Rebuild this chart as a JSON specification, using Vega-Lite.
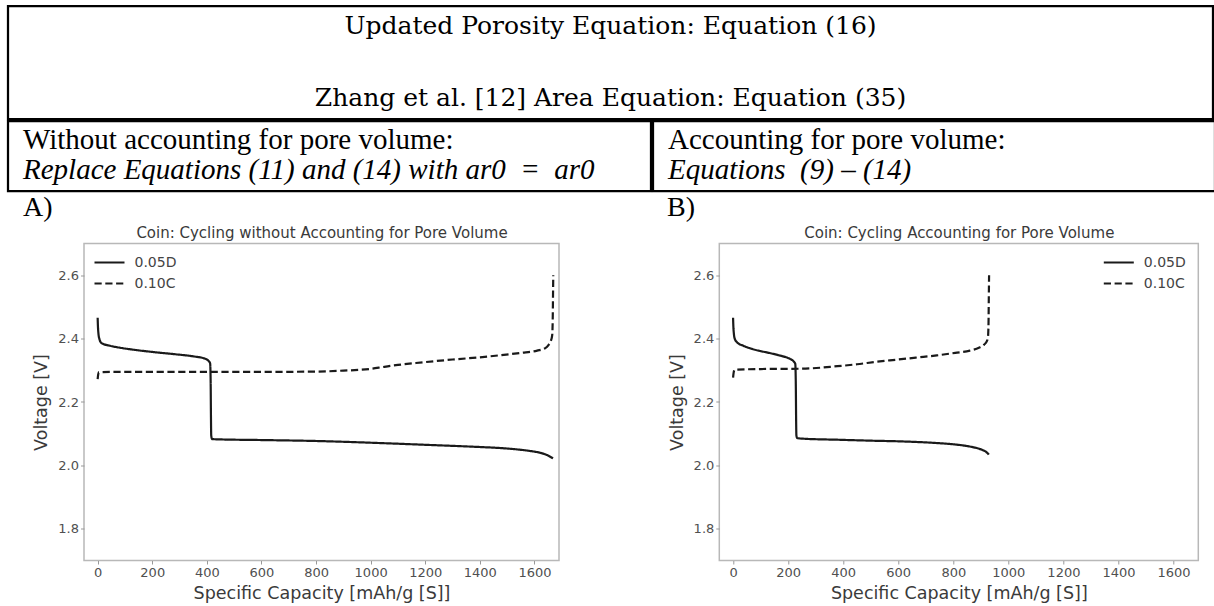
{
  "$schema": "https://vega.github.io/schema/vega-lite/v6.json",
  "background": "white",
  "padding": {"left": 6, "top": 4, "right": 0, "bottom": 2},
  "config": {
    "view": {"stroke": null},
    "title": {"fontWeight": "normal", "color": "black"},
    "axis": {
      "grid": false,
      "domain": false,
      "tickColor": "#999999",
      "tickSize": 3.5,
      "tickWidth": 1,
      "labelPadding": 2,
      "labelFont": "DejaVu Sans",
      "labelFontSize": 13,
      "labelColor": "#505050",
      "labelFlush": false,
      "titleFont": "DejaVu Sans",
      "titleFontSize": 17.5,
      "titleFontWeight": "normal",
      "titleColor": "#3a3a3a"
    }
  },
  "datasets": {
    "coinA": [
      {"rate": "0.05D", "capacity": 0, "voltage": 2.466},
      {"rate": "0.05D", "capacity": 1, "voltage": 2.44},
      {"rate": "0.05D", "capacity": 3, "voltage": 2.415},
      {"rate": "0.05D", "capacity": 6, "voltage": 2.4},
      {"rate": "0.05D", "capacity": 14, "voltage": 2.386},
      {"rate": "0.05D", "capacity": 42, "voltage": 2.378},
      {"rate": "0.05D", "capacity": 70, "voltage": 2.373},
      {"rate": "0.05D", "capacity": 140, "voltage": 2.364},
      {"rate": "0.05D", "capacity": 210, "voltage": 2.357},
      {"rate": "0.05D", "capacity": 280, "voltage": 2.351},
      {"rate": "0.05D", "capacity": 350, "voltage": 2.344},
      {"rate": "0.05D", "capacity": 392, "voltage": 2.337},
      {"rate": "0.05D", "capacity": 406, "voltage": 2.33},
      {"rate": "0.05D", "capacity": 412, "voltage": 2.322},
      {"rate": "0.05D", "capacity": 414, "voltage": 2.26},
      {"rate": "0.05D", "capacity": 415, "voltage": 2.16},
      {"rate": "0.05D", "capacity": 416, "voltage": 2.095},
      {"rate": "0.05D", "capacity": 419, "voltage": 2.083},
      {"rate": "0.05D", "capacity": 450, "voltage": 2.082},
      {"rate": "0.05D", "capacity": 600, "voltage": 2.08},
      {"rate": "0.05D", "capacity": 800, "voltage": 2.077},
      {"rate": "0.05D", "capacity": 1050, "voltage": 2.07},
      {"rate": "0.05D", "capacity": 1200, "voltage": 2.065},
      {"rate": "0.05D", "capacity": 1400, "voltage": 2.058},
      {"rate": "0.05D", "capacity": 1470, "voltage": 2.055},
      {"rate": "0.05D", "capacity": 1530, "voltage": 2.051},
      {"rate": "0.05D", "capacity": 1580, "voltage": 2.046},
      {"rate": "0.05D", "capacity": 1620, "voltage": 2.04},
      {"rate": "0.05D", "capacity": 1648, "voltage": 2.032},
      {"rate": "0.05D", "capacity": 1668, "voltage": 2.022},
      {"rate": "0.10C", "capacity": 0, "voltage": 2.272},
      {"rate": "0.10C", "capacity": 2, "voltage": 2.287},
      {"rate": "0.10C", "capacity": 5, "voltage": 2.294},
      {"rate": "0.10C", "capacity": 50, "voltage": 2.295},
      {"rate": "0.10C", "capacity": 300, "voltage": 2.295},
      {"rate": "0.10C", "capacity": 600, "voltage": 2.295},
      {"rate": "0.10C", "capacity": 800, "voltage": 2.296},
      {"rate": "0.10C", "capacity": 900, "voltage": 2.299},
      {"rate": "0.10C", "capacity": 994, "voltage": 2.304},
      {"rate": "0.10C", "capacity": 1050, "voltage": 2.311},
      {"rate": "0.10C", "capacity": 1100, "voltage": 2.317},
      {"rate": "0.10C", "capacity": 1190, "voltage": 2.325},
      {"rate": "0.10C", "capacity": 1300, "voltage": 2.334},
      {"rate": "0.10C", "capacity": 1400, "voltage": 2.341},
      {"rate": "0.10C", "capacity": 1470, "voltage": 2.347},
      {"rate": "0.10C", "capacity": 1550, "voltage": 2.355},
      {"rate": "0.10C", "capacity": 1610, "voltage": 2.362},
      {"rate": "0.10C", "capacity": 1640, "voltage": 2.37},
      {"rate": "0.10C", "capacity": 1652, "voltage": 2.38},
      {"rate": "0.10C", "capacity": 1660, "voltage": 2.392},
      {"rate": "0.10C", "capacity": 1665, "voltage": 2.41},
      {"rate": "0.10C", "capacity": 1667, "voltage": 2.46},
      {"rate": "0.10C", "capacity": 1668, "voltage": 2.53},
      {"rate": "0.10C", "capacity": 1669, "voltage": 2.6}
    ],
    "coinB": [
      {"rate": "0.05D", "capacity": 0, "voltage": 2.466},
      {"rate": "0.05D", "capacity": 1, "voltage": 2.44},
      {"rate": "0.05D", "capacity": 3, "voltage": 2.415},
      {"rate": "0.05D", "capacity": 6, "voltage": 2.4},
      {"rate": "0.05D", "capacity": 15, "voltage": 2.388},
      {"rate": "0.05D", "capacity": 36, "voltage": 2.378},
      {"rate": "0.05D", "capacity": 60, "voltage": 2.37},
      {"rate": "0.05D", "capacity": 93, "voltage": 2.362},
      {"rate": "0.05D", "capacity": 130, "voltage": 2.355},
      {"rate": "0.05D", "capacity": 164, "voltage": 2.348},
      {"rate": "0.05D", "capacity": 190, "voltage": 2.342},
      {"rate": "0.05D", "capacity": 207, "voltage": 2.336},
      {"rate": "0.05D", "capacity": 219, "voltage": 2.329},
      {"rate": "0.05D", "capacity": 226, "voltage": 2.32},
      {"rate": "0.05D", "capacity": 228, "voltage": 2.25},
      {"rate": "0.05D", "capacity": 229, "voltage": 2.15},
      {"rate": "0.05D", "capacity": 230, "voltage": 2.095},
      {"rate": "0.05D", "capacity": 233, "voltage": 2.086},
      {"rate": "0.05D", "capacity": 260, "voltage": 2.084},
      {"rate": "0.05D", "capacity": 379, "voltage": 2.081},
      {"rate": "0.05D", "capacity": 500, "voltage": 2.078},
      {"rate": "0.05D", "capacity": 600, "voltage": 2.076},
      {"rate": "0.05D", "capacity": 664, "voltage": 2.074},
      {"rate": "0.05D", "capacity": 750, "voltage": 2.07},
      {"rate": "0.05D", "capacity": 807, "voltage": 2.066},
      {"rate": "0.05D", "capacity": 850, "voltage": 2.061},
      {"rate": "0.05D", "capacity": 879, "voltage": 2.056},
      {"rate": "0.05D", "capacity": 905, "voltage": 2.049},
      {"rate": "0.05D", "capacity": 920, "voltage": 2.042},
      {"rate": "0.05D", "capacity": 929, "voltage": 2.034},
      {"rate": "0.10C", "capacity": 0, "voltage": 2.277},
      {"rate": "0.10C", "capacity": 2, "voltage": 2.292},
      {"rate": "0.10C", "capacity": 6, "voltage": 2.302},
      {"rate": "0.10C", "capacity": 100, "voltage": 2.304},
      {"rate": "0.10C", "capacity": 250, "voltage": 2.305},
      {"rate": "0.10C", "capacity": 379, "voltage": 2.313},
      {"rate": "0.10C", "capacity": 450, "voltage": 2.319},
      {"rate": "0.10C", "capacity": 521, "voltage": 2.327},
      {"rate": "0.10C", "capacity": 600, "voltage": 2.334},
      {"rate": "0.10C", "capacity": 664, "voltage": 2.34},
      {"rate": "0.10C", "capacity": 740, "voltage": 2.347},
      {"rate": "0.10C", "capacity": 807, "voltage": 2.355},
      {"rate": "0.10C", "capacity": 860, "voltage": 2.362},
      {"rate": "0.10C", "capacity": 893, "voltage": 2.371},
      {"rate": "0.10C", "capacity": 912, "voltage": 2.381},
      {"rate": "0.10C", "capacity": 922, "voltage": 2.392},
      {"rate": "0.10C", "capacity": 926, "voltage": 2.405},
      {"rate": "0.10C", "capacity": 928, "voltage": 2.45},
      {"rate": "0.10C", "capacity": 929, "voltage": 2.53},
      {"rate": "0.10C", "capacity": 930, "voltage": 2.6}
    ]
  },
  "spacing": -0.5,
  "vconcat": [
    {
      "spacing": -2.25,
      "vconcat": [
        {
          "hconcat": [
            {
              "width": 1205,
              "height": 113,
              "view": {"stroke": "black", "strokeWidth": 2.25},
              "data": {"values": []},
              "mark": "text",
              "title": {
                "text": ["Updated Porosity Equation: Equation (16)", "Zhang et al. [12] Area Equation: Equation (35)"],
                "font": "DejaVu Serif",
                "fontSize": 25,
                "lineHeight": 72,
                "anchor": "middle",
                "frame": "group",
                "offset": -105
              }
            }
          ]
        },
        {
          "spacing": -2.25,
          "hconcat": [
            {
              "width": 643,
              "height": 70,
              "view": {"stroke": "black", "strokeWidth": 2.25},
              "data": {"values": []},
              "mark": "text",
              "title": {
                "text": "Without accounting for pore volume:",
                "subtitle": "Replace Equations (11) and (14) with ar0\u00a0\u00a0=\u00a0\u00a0ar0",
                "font": "Liberation Serif",
                "fontSize": 29,
                "subtitleFont": "Liberation Serif",
                "subtitleFontSize": 29,
                "subtitleFontStyle": "italic",
                "subtitleColor": "black",
                "subtitlePadding": 1,
                "anchor": "start",
                "frame": "group",
                "dx": 15,
                "offset": -63.8
              }
            },
            {
              "width": 562,
              "height": 70,
              "view": {"stroke": "black", "strokeWidth": 2.25},
              "data": {"values": []},
              "mark": "text",
              "title": {
                "text": "Accounting for pore volume:",
                "subtitle": "Equations\u00a0\u00a0(9) \u2013 (14)",
                "font": "Liberation Serif",
                "fontSize": 29,
                "subtitleFont": "Liberation Serif",
                "subtitleFontSize": 29,
                "subtitleFontStyle": "italic",
                "subtitleColor": "black",
                "subtitlePadding": 1,
                "anchor": "start",
                "frame": "group",
                "dx": 15,
                "offset": -63.8
              }
            }
          ]
        }
      ]
    },
    {
      "spacing": 0,
      "hconcat": [
        {
          "width": 14,
          "height": 10,
          "data": {"values": []},
          "mark": "text"
        },
        {
          "spacing": 160.3,
          "bounds": "flush",
          "hconcat": [
            {
              "width": 475,
              "height": 317,
              "view": {"stroke": "#b8b8b8", "strokeWidth": 1.5},
              "title": {
                "text": "A)",
                "font": "Liberation Serif",
                "fontSize": 28,
                "anchor": "start",
                "frame": "group",
                "dx": -61,
                "offset": 3.4
              },
              "data": {"name": "coinA"},
              "layer": [
                {
                  "mark": {"type": "line", "color": "#1a1a1a", "strokeWidth": 2.2, "interpolate": "monotone"},
                  "encoding": {
                    "x": {
                      "field": "capacity", "type": "quantitative",
                      "scale": {"domain": [-50, 1690], "nice": false, "zero": false},
                      "axis": {"values": [0, 200, 400, 600, 800, 1000, 1200, 1400, 1600], "format": "d", "title": "Specific Capacity [mAh/g [S]]", "titlePadding": 5}
                    },
                    "y": {
                      "field": "voltage", "type": "quantitative",
                      "scale": {"domain": [1.7, 2.7], "nice": false, "zero": false},
                      "axis": {"values": [1.8, 2.0, 2.2, 2.4, 2.6], "format": ".1f", "title": "Voltage [V]", "titlePadding": 7}
                    },
                    "strokeDash": {
                      "field": "rate", "type": "nominal",
                      "scale": {"domain": ["0.05D", "0.10C"], "range": [[1, 0], [7.2, 3.6]]},
                      "legend": {
                        "title": null, "orient": "top-left", "offset": 12, "padding": 0,
                        "symbolType": "M-3,0H3", "symbolSize": 100, "symbolStrokeWidth": 2.2,
                        "symbolStrokeColor": "#1a1a1a", "symbolFillColor": "transparent",
                        "symbolOffset": 6.5, "labelOffset": 18, "rowPadding": 7,
                        "labelFont": "DejaVu Sans", "labelFontSize": 14, "labelColor": "#444444"
                      }
                    }
                  }
                },
                {
                  "mark": {"type": "point", "opacity": 0},
                  "encoding": {
                    "x": {
                      "field": "capacity", "type": "quantitative",
                      "axis": {"orient": "top", "title": "Coin: Cycling without Accounting for Pore Volume", "labels": false, "ticks": false, "domain": false, "titleFontSize": 15, "titlePadding": 3}
                    }
                  }
                }
              ],
              "resolve": {"axis": {"x": "independent"}}
            },
            {
              "width": 479,
              "height": 317,
              "view": {"stroke": "#b8b8b8", "strokeWidth": 1.5},
              "title": {
                "text": "B)",
                "font": "Liberation Serif",
                "fontSize": 28,
                "anchor": "start",
                "frame": "group",
                "dx": -52.3,
                "offset": 3.4
              },
              "data": {"name": "coinB"},
              "layer": [
                {
                  "mark": {"type": "line", "color": "#1a1a1a", "strokeWidth": 2.2, "interpolate": "monotone"},
                  "encoding": {
                    "x": {
                      "field": "capacity", "type": "quantitative",
                      "scale": {"domain": [-50, 1690], "nice": false, "zero": false},
                      "axis": {"values": [0, 200, 400, 600, 800, 1000, 1200, 1400, 1600], "format": "d", "title": "Specific Capacity [mAh/g [S]]", "titlePadding": 5}
                    },
                    "y": {
                      "field": "voltage", "type": "quantitative",
                      "scale": {"domain": [1.7, 2.7], "nice": false, "zero": false},
                      "axis": {"values": [1.8, 2.0, 2.2, 2.4, 2.6], "format": ".1f", "title": "Voltage [V]", "titlePadding": 7}
                    },
                    "strokeDash": {
                      "field": "rate", "type": "nominal",
                      "scale": {"domain": ["0.05D", "0.10C"], "range": [[1, 0], [7.2, 3.6]]},
                      "legend": {
                        "title": null, "orient": "top-right", "offset": 12, "padding": 0,
                        "symbolType": "M-3,0H3", "symbolSize": 100, "symbolStrokeWidth": 2.2,
                        "symbolStrokeColor": "#1a1a1a", "symbolFillColor": "transparent",
                        "symbolOffset": 6.5, "labelOffset": 18, "rowPadding": 7,
                        "labelFont": "DejaVu Sans", "labelFontSize": 14, "labelColor": "#444444"
                      }
                    }
                  }
                },
                {
                  "mark": {"type": "point", "opacity": 0},
                  "encoding": {
                    "x": {
                      "field": "capacity", "type": "quantitative",
                      "axis": {"orient": "top", "title": "Coin: Cycling Accounting for Pore Volume", "labels": false, "ticks": false, "domain": false, "titleFontSize": 15, "titlePadding": 3}
                    }
                  }
                }
              ],
              "resolve": {"axis": {"x": "independent"}}
            }
          ]
        }
      ]
    }
  ]
}
